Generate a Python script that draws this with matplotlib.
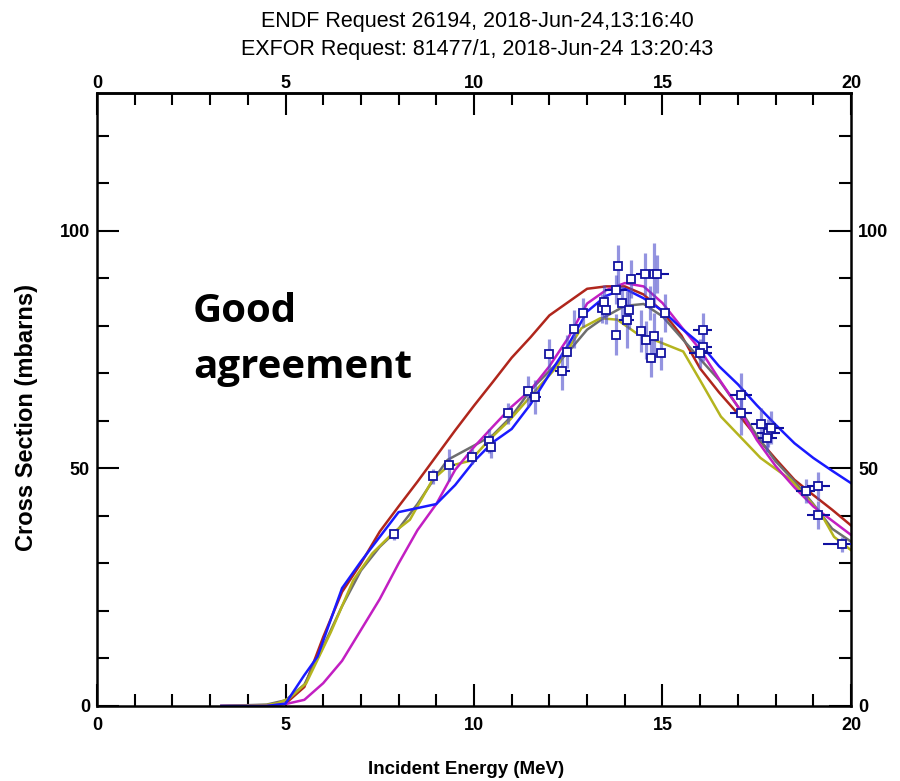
import matplotlib
matplotlib.use("Agg")
import matplotlib.pyplot as plt
from matplotlib.ticker import MultipleLocator

# evaluated cross sections (MeV, mbarns)
red_e = [3.3, 4.5, 5.0, 5.5, 6.0, 6.5, 7.0, 7.5, 8.0, 8.5, 9.0, 9.5, 10.0, 10.5, 11.0, 11.5,
         12.0, 12.5, 13.0, 13.5, 14.0, 14.5, 15.0, 15.5, 16.0, 16.5, 17.0, 17.5, 18.0, 18.5,
         19.0, 19.5, 20.0]
red_xs = [0, 0.1, 0.5, 4.0, 14.5, 24.0, 30.0, 36.7, 42.0, 47.2, 52.6, 58.0, 63.2, 68.2, 73.3,
          77.6, 82.2, 85.0, 87.8, 88.3, 88.3, 86.6, 83.0, 78.0, 71.0, 66.0, 61.5, 56.6, 52.0,
          47.6, 44.4, 41.3, 38.0]

blue_e = [3.3, 4.5, 5.0, 5.5, 5.85, 6.5, 7.0, 8.0, 9.0, 9.5, 10.0, 10.5, 11.0, 11.5, 12.0,
          12.5, 13.0, 13.5, 14.0, 14.5, 15.0, 15.5, 16.0, 16.5, 17.0, 17.5, 18.0, 18.5, 19.0,
          19.5, 20.0]
blue_xs = [0, 0, 0.5, 6.5, 10.4, 24.8, 30.4, 40.8, 42.5, 46.5, 51.5, 55.5, 58.3, 63.5, 69.8,
           76.0, 83.0, 86.3, 87.8, 85.8, 83.2, 79.5, 76.2, 71.5, 67.7, 63.3, 59.2, 55.3, 52.2,
           49.5, 46.9]

magenta_e = [3.3, 4.5, 5.0, 5.5, 6.0, 6.5, 7.0, 7.5, 8.0, 8.5, 9.0, 9.5, 10.0, 10.5, 11.0,
             11.5, 12.0, 12.5, 13.0, 13.5, 14.0, 14.5, 15.0, 15.5, 16.0, 16.5, 17.0, 17.5,
             18.0, 18.5, 19.0, 19.5, 20.0]
magenta_xs = [0, 0, 0.4, 1.3, 4.8, 9.5, 16.0, 22.5, 30.0, 37.0, 42.5, 49.7, 54.5, 58.8, 63.0,
              66.5, 71.5, 77.5, 84.7, 87.5, 89.0, 88.3, 84.8, 79.8, 75.0, 68.8, 63.0, 56.0,
              50.5, 46.0, 42.0, 39.0, 36.0]

gray_e = [3.3, 4.5, 5.0, 5.5, 6.0, 6.5, 7.0, 7.5, 8.0, 8.5, 9.0, 9.3, 10.0, 10.5, 11.0, 11.5,
          12.0, 12.5, 13.0, 13.5, 14.0, 14.5, 15.0, 15.5, 16.0, 16.5, 17.0, 17.5, 18.0, 18.5,
          19.0, 19.5, 20.0]
gray_xs = [0, 0.3, 1.2, 4.5, 12.5, 21.0, 28.5, 33.5, 37.3, 42.5, 48.5, 51.8, 54.8, 57.0, 61.0,
           66.5, 70.5, 74.5, 79.2, 82.0, 84.2, 84.6, 82.0, 77.5, 73.0, 68.6, 63.0, 57.0, 51.5,
           47.3, 42.5, 37.3, 34.6]

olive_e = [3.3, 4.5, 4.8, 5.1, 5.55, 6.2, 6.8, 7.3, 7.85, 8.3, 8.9, 9.3, 9.9, 10.4, 10.95,
           11.65, 12.2, 12.85, 13.35, 13.8, 14.3, 14.95, 15.55, 16.0, 16.55, 17.6, 18.4, 19.2,
           19.55, 20.0]
olive_xs = [0, 0.2, 0.6, 1.6, 4.8, 15.5, 26.5, 32.1, 36.4, 39.2, 47.6, 50.4, 51.6, 56.0, 60.2,
            66.5, 71.4, 79.5, 81.6, 81.3, 78.5, 76.5, 74.6, 68.5, 60.9, 52.2, 47.6, 40.5,
            35.6, 32.8]

# EXFOR measurements
exp_e = [7.89, 8.92, 9.35, 9.94, 10.40, 10.45, 10.91, 11.44, 11.62, 12.00, 12.34, 12.48,
         12.66, 12.90, 13.39, 13.45, 13.50, 13.77, 13.81, 13.76, 13.93, 14.05, 14.12, 14.16,
         14.42, 14.54, 14.55, 14.67, 14.70, 14.77, 14.78, 14.86, 14.95, 15.07, 16.07, 16.07,
         16.00, 17.08, 17.08, 17.61, 17.81, 17.87, 17.78, 18.80, 19.13, 19.13, 19.77]
exp_xs = [36.1, 48.3, 50.7, 52.5, 55.8, 54.6, 61.6, 66.2, 65.0, 74.0, 70.4, 74.6,
          79.3, 82.8, 83.7, 85.1, 83.4, 87.6, 92.6, 78.1, 84.9, 81.3, 83.4, 89.8,
          78.9, 90.9, 77.1, 84.8, 73.3, 77.8, 90.9, 90.9, 74.2, 82.8, 79.2, 75.6,
          74.2, 65.5, 61.6, 59.3, 57.4, 58.6, 56.5, 45.3, 46.3, 40.2, 34.0]
exp_de = [0, 0, 0.15, 0, 0, 0, 0, 0, 0.15, 0, 0.2, 0,
          0, 0, 0.1, 0, 0, 0.3, 0, 0, 0, 0.2, 0, 0,
          0, 0.25, 0, 0, 0, 0, 0, 0.3, 0, 0, 0.25, 0.25,
          0.3, 0.3, 0.3, 0.25, 0.3, 0.35, 0.25, 0.25, 0.3, 0.3, 0.5]
exp_dxs = [1.2, 1.5, 3.3, 1.5, 2.5, 2.5, 2.2, 3.3, 3.5, 3.3, 4.0, 3.5,
           4.0, 3.0, 3.0, 3.5, 3.0, 3.0, 4.5, 4.3, 3.5, 6.0, 4.0, 4.0,
           4.5, 4.5, 4.0, 3.5, 4.0, 5.0, 6.5, 4.0, 3.5, 4.0, 3.5, 3.0,
           3.0, 4.5, 4.5, 3.5, 3.0, 3.5, 3.0, 2.5, 3.0, 3.0, 1.5]

font = ["Liberation Sans", "DejaVu Sans"]
tick_size = 13

fig = plt.figure(figsize=(9, 7.81), dpi=100)
ax = fig.add_axes([97 / 900, 75 / 781, 754 / 900, 613 / 781])

lw = 1.8
ax.plot(red_e, red_xs, color="#b0261c", lw=lw, zorder=2)
ax.plot(gray_e, gray_xs, color="#6e6e6e", lw=lw, zorder=2)
ax.plot(olive_e, olive_xs, color="#b4b41e", lw=lw, zorder=2)
ax.plot(magenta_e, magenta_xs, color="#c21fc2", lw=lw, zorder=2)
ax.plot(blue_e, blue_xs, color="#1a1aff", lw=lw, zorder=2)

ax.errorbar(exp_e, exp_xs, yerr=exp_dxs, fmt="none", ecolor=(0.3, 0.3, 0.8, 0.6),
            elinewidth=2.3, zorder=3)
ax.errorbar(exp_e, exp_xs, xerr=exp_de, fmt="none", ecolor="#1010a0", elinewidth=1.5, zorder=4)
ax.plot(exp_e, exp_xs, "s", mfc="white", mec="#1414a0", ms=5.5, mew=1.3, zorder=5)

ax.set_xlim(0, 20)
ax.set_ylim(0, 129)
ax.xaxis.set_major_locator(MultipleLocator(5))
ax.xaxis.set_minor_locator(MultipleLocator(1))
ax.yaxis.set_major_locator(MultipleLocator(50))
ax.yaxis.set_minor_locator(MultipleLocator(10))
ax.tick_params(which="both", direction="in", top=True, right=True,
               labeltop=False, labelright=True, width=1.5, color="black")
ax.tick_params(which="major", length=16, pad=5)
ax.tick_params(axis="x", which="major", pad=8)
ax.tick_params(which="minor", length=8.5)
for s in ax.spines.values():
    s.set_linewidth(1.8)

# energy labels along the top edge
top = ax.secondary_xaxis("top")
top.set_xticks([0, 5, 10, 15, 20])
top.tick_params(length=0, pad=1)
top.spines["top"].set_linewidth(1.8)

for t in ax.xaxis.get_major_ticks() + ax.yaxis.get_major_ticks() + top.xaxis.get_major_ticks():
    for lab in (t.label1, t.label2):
        lab.set_family(font)
        lab.set_fontweight("bold")
        lab.set_fontsize(tick_size)

ax.set_xlabel("Incident Energy (MeV)", family=font, fontweight="bold", fontsize=13.5)
ax.xaxis.set_label_coords(0.49, -0.09)
ax.set_ylabel("Cross Section (mbarns)", family=font, fontweight="bold", fontsize=17)
ax.yaxis.set_label_coords(-0.078, 0.47)

fig.text(0.53, 0.966, "ENDF Request 26194, 2018-Jun-24,13:16:40", ha="center",
         va="baseline", family=font, fontsize=15.5)
fig.text(0.53, 0.929, "EXFOR Request: 81477/1, 2018-Jun-24 13:20:43", ha="center",
         va="baseline", family=font, fontsize=15.5)

fig.text(193 / 900, 0.5877, "Good", ha="left", va="baseline",
         family=["Open Sans", "DejaVu Sans"], fontweight="bold", fontsize=29)
fig.text(193 / 900, 0.516, "agreement", ha="left", va="baseline",
         family=["Open Sans", "DejaVu Sans"], fontweight="bold", fontsize=29)

fig.savefig("out.png", dpi=100)
